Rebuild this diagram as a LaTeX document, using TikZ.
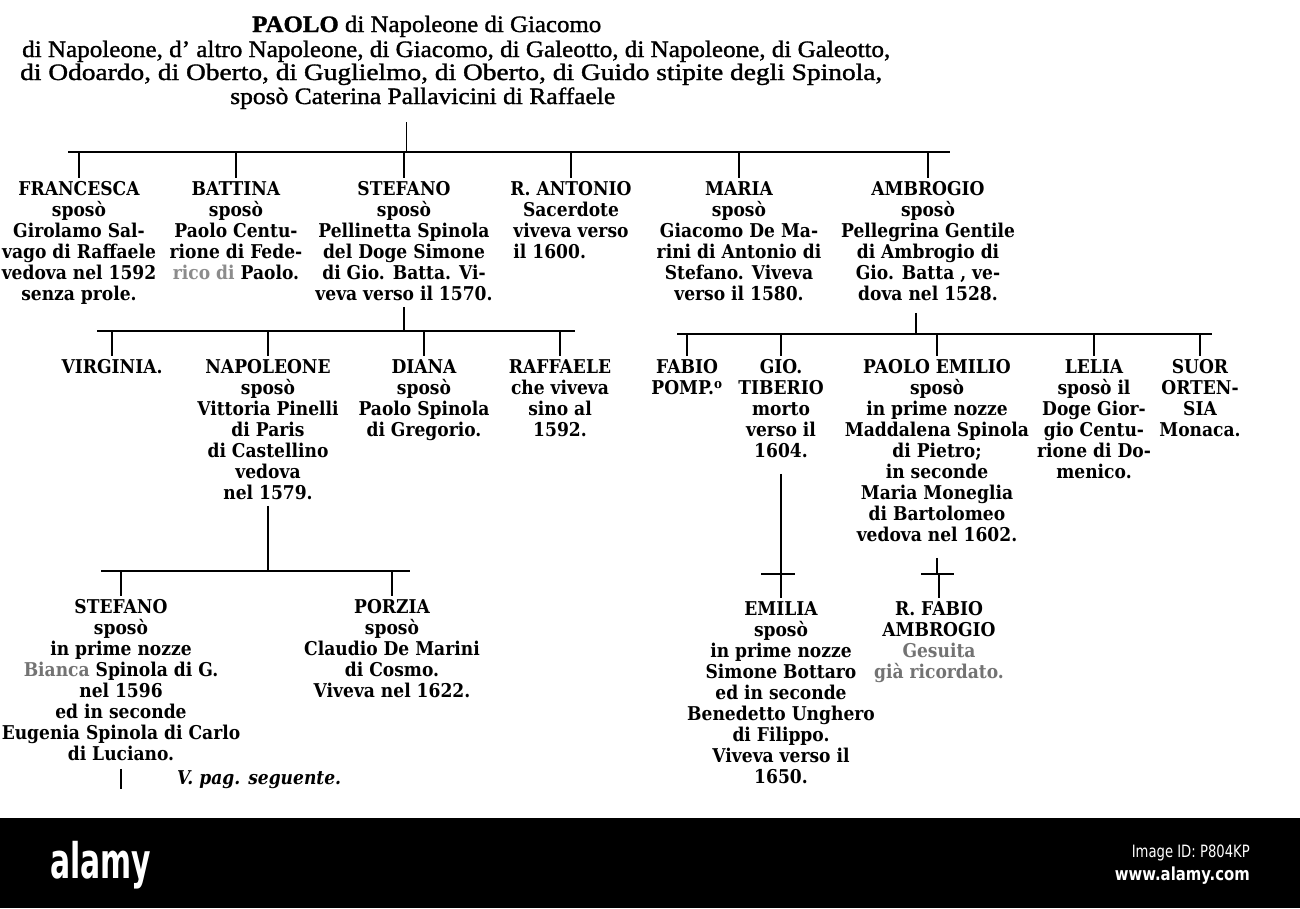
\documentclass[tikz,border=0pt]{standalone}
\usepackage{fontspec}
\usepackage{graphicx}
\usepackage{calc}
\newfontfamily\bodyf[FakeStretch=0.9]{DejaVu Serif}
\newfontfamily\headf[FakeBold=1.3]{Liberation Serif}
\newfontfamily\wmf{DejaVu Sans}
\newcommand\fitw[2]{\resizebox{#1}{\height}{#2}}
\begin{document}
\begin{tikzpicture}[x=1pt,y=-1pt,
  person/.style={font=\bodyf\bfseries\fontsize{19}{21}\selectfont, align=center, inner sep=0pt, anchor=north},
  hline/.style={font=\headf\fontsize{23.5}{24}\selectfont, inner sep=0pt, anchor=base west},
  bar/.style={line width=2.6pt},
  smallbar/.style={line width=1.8pt},
  tick/.style={line width=1.2pt},
  faded/.style={text=black!50}
]
\useasboundingbox (0,0) rectangle (1300,908);
\fill[white] (0,0) rectangle (1300,908);

% header
\node[hline] (h1) at (252,32) {\fitw{349pt}{\textbf{PAOLO} di Napoleone di Giacomo}};
\node[hline] (h2) at (22,57) {\fitw{868pt}{di Napoleone, d’ altro Napoleone, di Giacomo, di Galeotto, di Napoleone, di Galeotto,}};
\node[hline] (h3) at (20,80) {\fitw{862pt}{di Odoardo, di Oberto, di Guglielmo, di Oberto, di Guido stipite degli Spinola,}};
\node[hline] (h4) at (230,104) {\fitw{385pt}{sposò Caterina Pallavicini di Raffaele}};

\coordinate (b1L) at (68,152);
\coordinate (b1R) at (950,152);
\coordinate (v0) at ([xshift=-16.5pt,yshift=-13pt]h4.south);
\draw[tick] (v0) -- (v0 |- b1L);
\draw[bar] (b1L) -- (b1R);

% row 1
\node[person] (fr) at (79,181) {FRANCESCA\\sposò\\Girolamo Sal-\\vago di Raffaele\\vedova nel 1592\\senza prole.};
\node[person] (ba) at (236,181) {BATTINA\\sposò\\Paolo Centu-\\rione di Fede-\\{\color{black!45}rico di} Paolo.};
\node[person] (st) at (404,181) {STEFANO\\sposò\\Pellinetta Spinola\\del Doge Simone\\di Gio. Batta. Vi-\\veva verso il 1570.};
\node[person] (ra) at (571,181) {R. ANTONIO\\Sacerdote\\viveva verso\\\makebox[\widthof{viveva verso}][l]{il 1600.}};
\node[person] (ma) at (739,181) {MARIA\\sposò\\Giacomo De Ma-\\rini di Antonio di\\Stefano. Viveva\\verso il 1580.};
\node[person] (am) at (928,181) {AMBROGIO\\sposò\\Pellegrina Gentile\\di Ambrogio di\\Gio. Batta , ve-\\dova nel 1528.};
\foreach \n in {fr,ba,st,ra,ma,am} \draw[tick] (b1L -| \n.north) -- ([yshift=3pt]\n.north);

% row 2 left
\coordinate (b2L) at (97,331);
\coordinate (b2R) at (575,331);
\draw[tick] ([yshift=-6pt]st.south) -- (st.south |- b2L);
\draw[bar] (b2L) -- (b2R);
\node[person] (vi) at (112,359) {VIRGINIA.};
\node[person] (na) at (268,359) {NAPOLEONE\\sposò\\Vittoria Pinelli\\di Paris\\di Castellino\\vedova\\nel 1579.};
\node[person] (di) at (424,359) {DIANA\\sposò\\Paolo Spinola\\di Gregorio.};
\node[person] (rf) at (560,359) {RAFFAELE\\che viveva\\sino al\\1592.};
\foreach \n in {vi,na,di,rf} \draw[tick] (b2L -| \n.north) -- ([yshift=3pt]\n.north);

% row 2 right
\coordinate (b3L) at (677,334);
\coordinate (b3R) at (1212,334);
\coordinate (v1) at ([xshift=-12pt,yshift=-12pt]am.south);
\draw[tick] (v1) -- (v1 |- b3L);
\draw[bar] (b3L) -- (b3R);
\node[person] (fa) at (687,359) {FABIO\\POMP.\textsuperscript{o}};
\node[person] (gt) at (781,359) {GIO.\\TIBERIO\\morto\\verso il\\1604.};
\node[person] (pe) at (937,359) {PAOLO EMILIO\\sposò\\in prime nozze\\Maddalena Spinola\\di Pietro;\\in seconde\\Maria Moneglia\\di Bartolomeo\\vedova nel 1602.};
\node[person] (le) at (1094,359) {LELIA\\sposò il\\Doge Gior-\\gio Centu-\\rione di Do-\\menico.};
\node[person] (so) at (1200,359) {SUOR\\ORTEN-\\SIA\\Monaca.};
\foreach \n in {fa,gt,pe,le,so} \draw[tick] (b3L -| \n.north) -- ([yshift=3pt]\n.north);

% row 3 left
\coordinate (b4L) at (101,571);
\coordinate (b4R) at (410,571);
\draw[tick] ([yshift=-6pt]na.south) -- (na.south |- b4L);
\draw[bar] (b4L) -- (b4R);
\node[person] (st2) at (121,599) {STEFANO\\sposò\\in prime nozze\\{\color{black!55}Bianca} Spinola di G.\\nel 1596\\ed in seconde\\Eugenia Spinola di Carlo\\di Luciano.};
\node[person] (po) at (392,599) {PORZIA\\sposò\\Claudio De Marini\\di Cosmo.\\Viveva nel 1622.};
\foreach \n in {st2,po} \draw[tick] (b4L -| \n.north) -- ([yshift=3pt]\n.north);
\coordinate (cont) at (122,789);
\draw[tick] ([yshift=-8pt]st2.south) -- (st2.south |- cont);
\node[anchor=base west, inner sep=0pt, font=\bodyf\bfseries\itshape\fontsize{19}{21}\selectfont] (vp) at (177,784) {V. pag. seguente.};

% row 3 right
\coordinate (s1L) at (761,574);
\coordinate (s1R) at (795,574);
\draw[tick] ([yshift=-16pt]gt.south) -- (gt.south |- s1L);
\draw[smallbar] (s1L) -- (s1R);
\node[person] (em) at (781,601) {EMILIA\\sposò\\in prime nozze\\Simone Bottaro\\ed in seconde\\Benedetto Unghero\\di Filippo.\\Viveva verso il\\1650.};
\draw[tick] (s1L -| em.north) -- ([yshift=3pt]em.north);

\coordinate (s2L) at (921,574);
\coordinate (s2R) at (954,574);
\draw[tick] ([yshift=-16pt]pe.south) -- (pe.south |- s2L);
\draw[smallbar] (s2L) -- (s2R);
\node[person] (rfa) at (939,601) {R. FABIO\\AMBROGIO\\{\color{black!55}Gesuita}\\{\color{black!55}già ricordato.}};
\draw[tick] (s2L -| rfa.north) -- ([yshift=3pt]rfa.north);

% bottom band
\fill[black] (0,818) rectangle (1300,908);
\node[anchor=base west, inner sep=0pt, text=white, font=\wmf\bfseries\fontsize{49}{50}\selectfont] (alamy) at (50,878) {\fitw{101pt}{alamy}};
\node[anchor=base east, inner sep=0pt, text=white, font=\wmf\fontsize{17}{20}\selectfont] (imgid) at (1250,857) {\fitw{118pt}{Image ID: P804KP}};
\node[anchor=base east, inner sep=0pt, text=white, font=\wmf\bfseries\fontsize{18}{20}\selectfont] (www) at (1250,880) {\fitw{135pt}{www.alamy.com}};
\end{tikzpicture}
\end{document}
